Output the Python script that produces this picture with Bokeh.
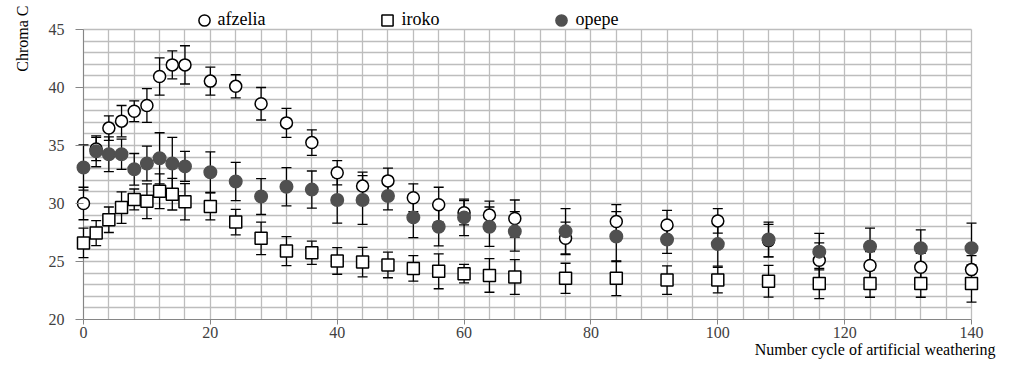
from bokeh.plotting import figure
from bokeh.models import (Range1d, SingleIntervalTicker, FixedTicker, Whisker, TeeHead,
                          ColumnDataSource, Legend, LegendItem, Grid, Title)
from bokeh.embed import file_html
from bokeh.resources import INLINE

cycles = [0, 2, 4, 6, 8, 10, 12, 14, 16, 20, 24, 28, 32, 36, 40, 44, 48, 52, 56, 60, 64, 68,
          76, 84, 92, 100, 108, 116, 124, 132, 140]
afzelia = [30.0, 34.7, 36.5, 37.1, 37.95, 38.45, 40.95, 41.95, 41.95, 40.55, 40.1, 38.6, 36.95,
           35.25, 32.65, 31.5, 31.95, 30.5, 29.9, 29.2, 29.0, 28.7, 27.0, 28.45, 28.15, 28.5,
           26.8, 25.1, 24.65, 24.5, 24.3]
afzelia_sd = [1.4, 1.0, 1.05, 1.35, 0.9, 1.45, 1.6, 1.2, 1.65, 1.2, 1.0, 1.4, 1.25, 1.1, 1.05,
              1.2, 1.1, 1.2, 1.5, 1.05, 1.2, 1.6, 1.4, 1.45, 1.25, 1.05, 1.4, 1.5, 1.2, 1.2, 1.2]
iroko = [26.6, 27.45, 28.6, 29.65, 30.35, 30.2, 31.05, 30.8, 30.15, 29.75, 28.4, 27.0, 25.9,
         25.75, 25.05, 24.95, 24.7, 24.4, 24.15, 23.95, 23.8, 23.67, 23.55, 23.55, 23.4, 23.4,
         23.3, 23.1, 23.1, 23.1, 23.1]
iroko_sd = [1.27, 1.08, 1.1, 1.36, 0.9, 1.5, 1.5, 1.36, 1.57, 1.17, 1.1, 1.4, 1.25, 1.0, 1.15,
            1.27, 1.1, 1.1, 1.5, 0.8, 1.45, 1.5, 1.3, 1.5, 1.23, 1.1, 1.37, 1.3, 1.18, 1.18, 1.6]
opepe = [33.1, 34.5, 34.25, 34.25, 32.95, 33.45, 33.9, 33.45, 33.2, 32.7, 31.9, 30.6, 31.45,
         31.2, 30.3, 30.3, 30.65, 28.8, 28.0, 28.8, 28.0, 27.6, 27.6, 27.15, 26.9, 26.5, 26.9,
         25.85, 26.3, 26.15, 26.15]
opepe_sd = [1.95, 1.33, 1.5, 1.3, 1.36, 1.5, 2.2, 2.25, 1.3, 1.75, 1.65, 1.55, 1.65, 1.6, 2.0,
            2.1, 1.2, 1.75, 1.66, 1.57, 1.7, 1.7, 1.95, 2.15, 1.2, 1.9, 1.5, 1.58, 1.58, 1.57, 2.15]

X_MIN, X_MAX = 0, 140
Y_MIN, Y_MAX = 20, 45
x_ticks_major = 20
x_grid_step = 4
y_ticks_major = 5
y_grid_step = 1
x_title = "Number cycle of artificial weathering"
y_title = "Chroma C"

FONT = "Liberation Serif"
px_per_x = 889 / (X_MAX - X_MIN)
px_per_y = 290 / (Y_MAX - Y_MIN)
x_pad = 8 / px_per_x            # room so edge markers are not clipped
y_head = 24 / px_per_y          # room above the plot area for the legend

p = figure(width=997, height=361, output_backend="svg", toolbar_location=None,
           x_range=Range1d(X_MIN - x_pad, X_MAX + x_pad),
           y_range=Range1d(Y_MIN, Y_MAX + y_head),
           min_border_left=74, min_border_right=18, min_border_top=5, min_border_bottom=42)
p.outline_line_color = None

# grid (limited to the data rectangle)
p.xgrid.ticker = SingleIntervalTicker(interval=x_grid_step)
p.ygrid.ticker = SingleIntervalTicker(interval=y_grid_step)
p.xgrid.bounds = (X_MIN, X_MAX)
p.xgrid.cross_bounds = (Y_MIN, Y_MAX)
p.ygrid.bounds = (Y_MIN, Y_MAX)
p.ygrid.cross_bounds = (X_MIN, X_MAX)
for g in (p.xgrid, p.ygrid):
    g.grid_line_color = "#bdbdbd"
    g.grid_line_width = 1.3

# vertical axis line at x = 0
p.add_layout(Grid(dimension=0, ticker=FixedTicker(ticks=[X_MIN]), cross_bounds=(Y_MIN, Y_MAX),
                  grid_line_color="#868686", grid_line_width=1))

# axes
p.xaxis.ticker = SingleIntervalTicker(interval=x_ticks_major)
p.yaxis.ticker = SingleIntervalTicker(interval=y_ticks_major)
p.xaxis.bounds = (X_MIN, X_MAX)
p.xaxis.axis_line_color = "#868686"
p.xaxis.major_tick_out = 5
p.xaxis.major_tick_in = 0
p.xaxis.major_label_standoff = 2
p.yaxis.axis_line_color = None
p.yaxis.major_tick_in = 8
p.yaxis.major_tick_out = 0
p.yaxis.major_label_standoff = 11
for ax in (p.xaxis, p.yaxis):
    ax.minor_tick_in = 0
    ax.minor_tick_out = 0
    ax.major_tick_line_color = "#868686"
    ax.major_label_text_font = FONT
    ax.major_label_text_font_size = "16px"
    ax.major_label_text_color = "#404040"

# axis titles as side-panel titles (right-aligned / top-aligned like the original)
p.add_layout(Title(text=x_title, align="right", vertical_align="top", standoff=0, offset=-16,
                   text_font=FONT, text_font_size="16px", text_font_style="normal",
                   text_color="black"), "below")
p.add_layout(Title(text=y_title, align="right", vertical_align="top", standoff=26, offset=0,
                   text_font=FONT, text_font_size="16px", text_font_style="normal",
                   text_color="black"), "left")

def add_series(vals, sd, marker, fill, line, size):
    src = ColumnDataSource(dict(x=cycles, y=vals,
                                upper=[v + s for v, s in zip(vals, sd)],
                                lower=[v - s for v, s in zip(vals, sd)]))
    w = Whisker(base="x", upper="upper", lower="lower", source=src,
                line_color="black", line_width=1.3,
                upper_head=TeeHead(size=10, line_color="black", line_width=1.3),
                lower_head=TeeHead(size=10, line_color="black", line_width=1.3))
    p.add_layout(w)
    return p.scatter("x", "y", source=src, marker=marker, size=size, fill_color=fill,
                     line_color=line, line_width=1.5)

r1 = add_series(afzelia, afzelia_sd, "circle", "white", "black", 12)
r2 = add_series(iroko, iroko_sd, "square", "white", "black", 12)
r3 = add_series(opepe, opepe_sd, "circle", "#505050", "#505050", 12.5)

legend = Legend(items=[LegendItem(label="afzelia", renderers=[r1]),
                       LegendItem(label="iroko", renderers=[r2]),
                       LegendItem(label="opepe", renderers=[r3])],
                orientation="horizontal", location=(114.5, 285.5),
                glyph_width=28, glyph_height=28, label_standoff=0, spacing=108,
                padding=0, margin=0, background_fill_alpha=0, border_line_color=None,
                label_text_font=FONT, label_text_font_size="18px", label_text_color="black")
p.add_layout(legend)

open("out.html", "w").write(file_html(p, INLINE))
